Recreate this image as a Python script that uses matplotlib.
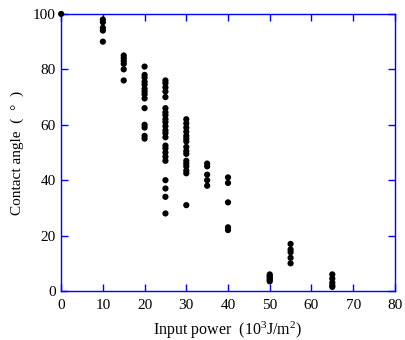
import numpy as np
import matplotlib
matplotlib.use('Agg')
import matplotlib.pyplot as plt

# contact angle readings per input power (10^3 J/m^2)
power = [0, 10, 15, 20, 25, 30, 35, 40, 50, 55, 65]
angles = [
    [100],
    [98, 97, 95, 94, 90],
    [85, 84, 83, 82, 80, 76],
    [81, 78, 77, 75.5, 74.5, 73, 72, 71, 69.5, 66, 60, 59, 56, 55],
    [76, 75, 73.5, 72, 70, 66, 64.5, 63.5, 62, 61, 59.5, 58, 57, 55.5,
     52.5, 51.5, 50, 48.5, 47, 40, 37, 34, 28],
    [62, 60.5, 59, 57.5, 56, 55, 54, 52, 50.5, 49.5, 47, 46, 45, 43.5, 42.5, 31],
    [46, 45, 42, 40, 38],
    [41, 39, 32, 23, 22],
    [6, 5.5, 5, 4.5, 4, 3.5],
    [17, 15, 14, 12, 10],
    [6, 4.5, 3, 2, 1.5],
]

plt.rcParams['font.family'] = ['Liberation Serif', 'DejaVu Serif']
plt.rcParams['font.size'] = 11
plt.rcParams['mathtext.fontset'] = 'custom'
plt.rcParams['mathtext.rm'] = 'Liberation Serif'
plt.rcParams['mathtext.it'] = 'Liberation Serif:italic'

fig = plt.figure(figsize=(4.05, 3.4), dpi=100)
ax = fig.add_axes([0.151, 0.144, 0.824, 0.815])

xs = np.concatenate([[p] * len(a) for p, a in zip(power, angles)])
ys = np.concatenate(angles)
ax.scatter(xs, ys, s=20, color='black', edgecolors='none', clip_on=False, zorder=3)

ax.set_xlim(0, 80)
ax.set_ylim(0, 100)
ax.set_xticks(range(0, 81, 10))
ax.set_yticks(range(0, 101, 20))
for sp in ax.spines.values():
    sp.set_color('#0000ff')
    sp.set_linewidth(1.0)
ax.tick_params(direction='in', length=5, width=1, color='#0000ff',
               top=True, right=True, labelsize=11)
ax.tick_params(axis='x', pad=6)
ax.tick_params(axis='y', pad=4)

ax.set_xlabel(r'Input power  (10$^{\mathrm{3}}$J/m$^{\mathrm{2}}$)', fontsize=11.5, labelpad=5)
ax.set_ylabel('Contact angle  (  °  )', fontsize=11, labelpad=6)

fig.savefig('out.png', dpi=100)
